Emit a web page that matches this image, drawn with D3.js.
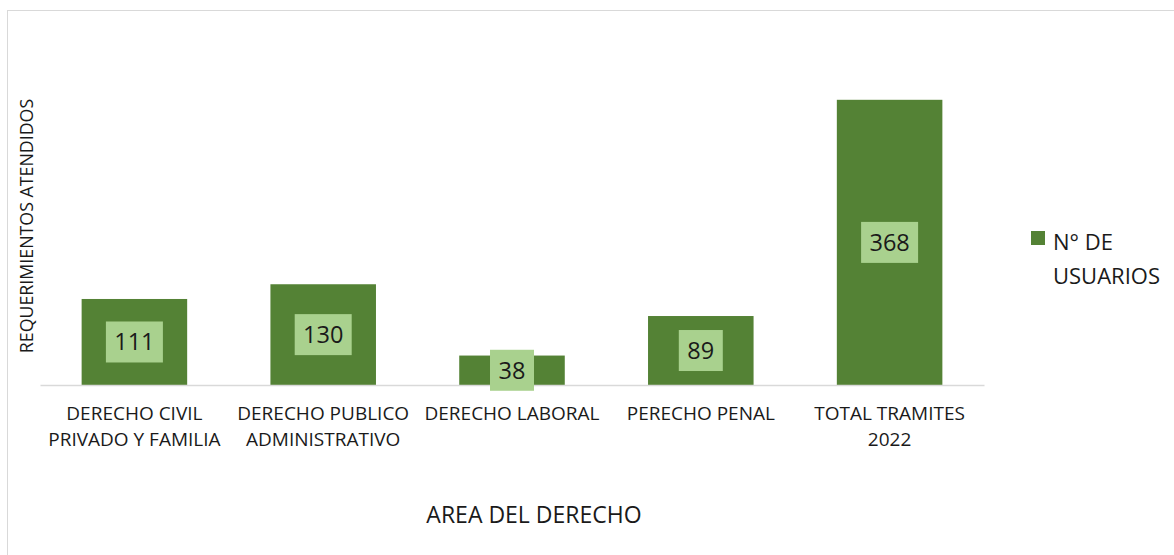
<!DOCTYPE html>
<html>
<head>
<meta charset="utf-8">
<script src="https://cdn.jsdelivr.net/npm/d3@7"></script>
<style>
  body { margin: 0; background: #fff; }
  svg { display: block; font-family: "Open Sans", sans-serif; }
</style>
</head>
<body>
<div class="container"></div>
<script>
// data
const categories = [
  ['DERECHO CIVIL', 'PRIVADO Y FAMILIA'],
  ['DERECHO PUBLICO', 'ADMINISTRATIVO'],
  ['DERECHO LABORAL'],
  ['PERECHO PENAL'],
  ['TOTAL TRAMITES', '2022']
];
const values = [111, 130, 38, 89, 368];
const seriesName = ['N° DE', 'USUARIOS'];
const xTitle = 'AREA DEL DERECHO';
const yTitle = 'REQUERIMIENTOS ATENDIDOS';

const width = 1174;
const height = 555;
const dark = '#548235';
const light = '#a9d18e';

const svg = d3.select('.container')
  .append('svg')
  .attr('width', width)
  .attr('height', height);

// chart border
svg.append('rect')
  .attr('x', 7.5)
  .attr('y', 10.5)
  .attr('width', width + 10)
  .attr('height', height + 10)
  .attr('fill', 'none')
  .attr('stroke', '#d9d9d9');

const keys = categories.map(d => d.join(' '));

const x = d3.scaleBand()
  .domain(keys)
  .range([40, 984])
  .paddingInner(0.441)
  .paddingOuter(0.2205);

const y = d3.scaleLinear()
  .domain([0, 400])
  .range([385, 75]);

// bars
svg.selectAll('rect.bar')
  .data(values)
  .enter()
  .append('rect')
  .attr('class', 'bar')
  .attr('x', (d, i) => x(keys[i]))
  .attr('y', d => y(d))
  .attr('width', x.bandwidth())
  .attr('height', d => y(0) - y(d))
  .attr('fill', dark);

// axis
const axis = svg.append('g')
  .attr('transform', `translate(0,${y(0)})`)
  .call(d3.axisBottom(x).tickSize(0).tickSizeOuter(0))
  .attr('font-family', '"Open Sans", sans-serif');

axis.select('.domain').attr('stroke', '#d9d9d9').attr('stroke-width', 1.5);
axis.selectAll('.tick text').remove();
axis.selectAll('.tick')
  .append('text')
  .attr('fill', '#1a1a1a')
  .attr('font-size', '19px')
  .attr('text-anchor', 'middle')
  .selectAll('tspan')
  .data((d, i) => categories[i])
  .enter()
  .append('tspan')
  .attr('x', 0)
  .attr('y', (d, i) => 35 + i * 26)
  .text(d => d);

// data labels
const labels = svg.selectAll('g.label')
  .data(values)
  .enter()
  .append('g')
  .attr('class', 'label')
  .attr('transform', (d, i) => `translate(${x(keys[i]) + x.bandwidth() / 2},${(y(d) + y(0)) / 2})`);

labels.append('rect')
  .attr('x', d => -(String(d).length * 13 + 18) / 2)
  .attr('y', -20.5)
  .attr('width', d => String(d).length * 13 + 18)
  .attr('height', 41)
  .attr('fill', light);

labels.append('text')
  .attr('text-anchor', 'middle')
  .attr('y', 8.5)
  .attr('font-size', '23.5px')
  .attr('fill', '#1a1a1a')
  .text(d => d);

// axis titles
svg.append('text')
  .attr('x', 534)
  .attr('y', 523)
  .attr('text-anchor', 'middle')
  .attr('font-size', '23px')
  .attr('fill', '#1a1a1a')
  .text(xTitle);

svg.append('text')
  .attr('transform', 'translate(33,226) rotate(-90)')
  .attr('text-anchor', 'middle')
  .attr('font-size', '17.8px')
  .attr('fill', '#1a1a1a')
  .text(yTitle);

// legend
const legend = svg.append('g').attr('transform', 'translate(1031,231)');
legend.append('rect')
  .attr('width', 14)
  .attr('height', 14)
  .attr('fill', dark);
legend.append('text')
  .attr('font-size', '22px')
  .attr('fill', '#1a1a1a')
  .selectAll('tspan')
  .data(seriesName)
  .enter()
  .append('tspan')
  .attr('x', 22)
  .attr('y', (d, i) => 19 + i * 34)
  .text(d => d);
</script>
</body>
</html>
